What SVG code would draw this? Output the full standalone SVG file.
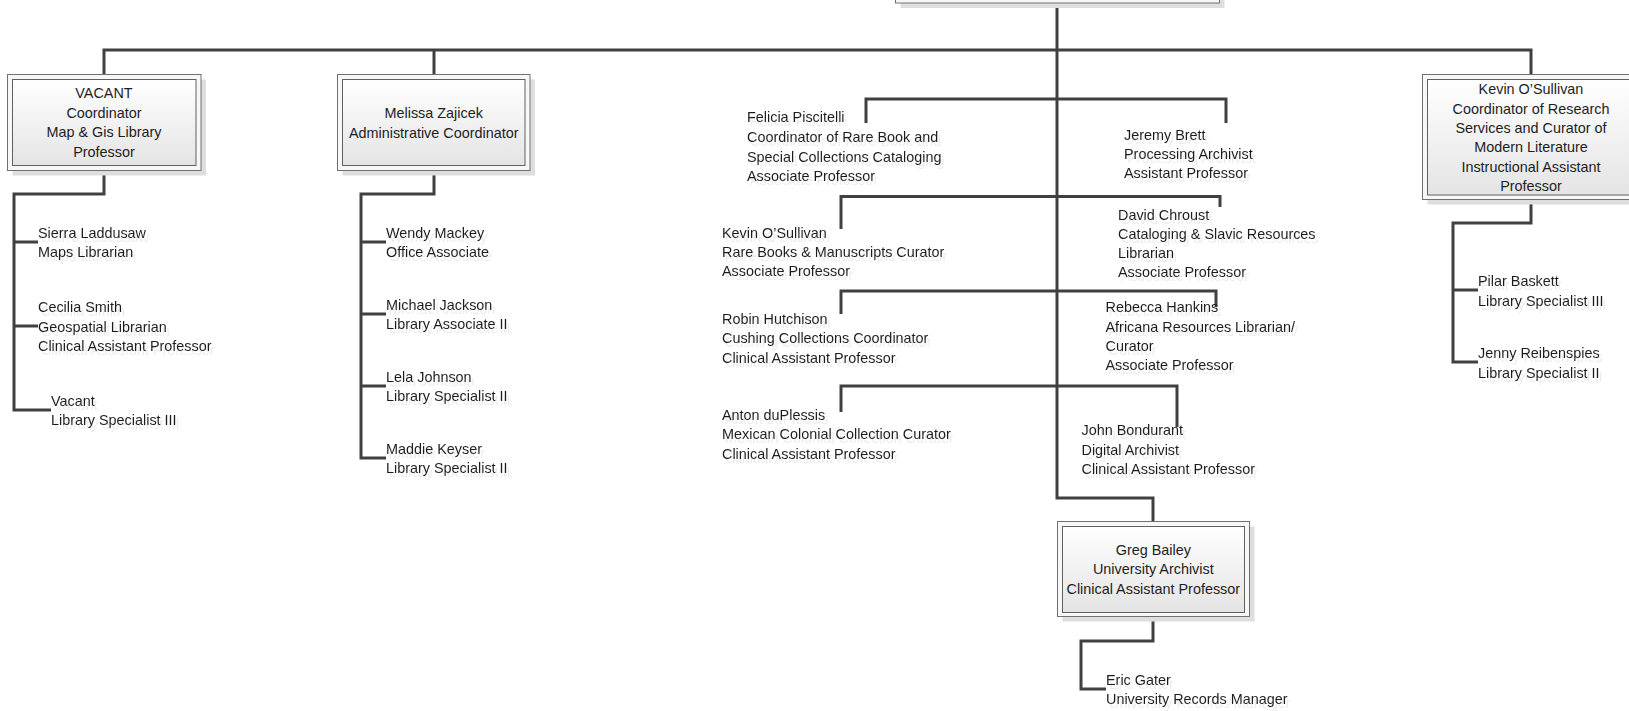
<svg xmlns="http://www.w3.org/2000/svg" width="1629" height="711" viewBox="0 0 1629 711">
<defs>
<linearGradient id="boxfill" x1="0" y1="0" x2="0" y2="1">
<stop offset="0" stop-color="#ffffff"/>
<stop offset="1" stop-color="#e4e4e4"/>
</linearGradient>
<filter id="tshadow" x="-5%" y="-20%" width="115%" height="160%">
<feDropShadow dx="3" dy="4" stdDeviation="0.5" flood-color="#b0b0b0" flood-opacity="0.25"/>
</filter>
</defs>
<style>
.shadow{fill:#dedede;stroke:none}
.outer{fill:#f7f7f7;stroke:#707070;stroke-width:1}
.inner{fill:url(#boxfill);stroke:#606060;stroke-width:1}
.conn{fill:none;stroke:#404040;stroke-width:3;stroke-linejoin:miter;stroke-linecap:butt}
text{font-family:"Liberation Sans",Arial,sans-serif;font-size:14.4px;fill:#1e1e1e}
.c{text-anchor:middle}
.free{filter:url(#tshadow)}
</style>
<rect width="1629" height="711" fill="#ffffff"/>

<g id="connectors">
<path class="conn" d="M104,74 V50 H1531 V74"/>
<path class="conn" d="M434,50 V74"/>
<path class="conn" d="M1057,3 V498 H1153 V522"/>
<path class="conn" d="M104,170 V194 H14 V410 H51 M14,242 H38 M14,326 H38"/>
<path class="conn" d="M434,170 V194 H361 V458 H386 M361,242 H386 M361,314 H386 M361,386 H386"/>
<path class="conn" d="M1531,199 V223 H1453 V362 H1478 M1453,290 H1478"/>
<path class="conn" d="M866,123 V99 H1226 V123"/>
<path class="conn" d="M841,229 V196.5 H1220 V207"/>
<path class="conn" d="M841,314 V291 H1216 V307"/>
<path class="conn" d="M841,412 V386 H1177 V427"/>
<path class="conn" d="M1153,617 V641 H1081 V689 H1106"/>
</g>

<g id="node-top">
<rect class="shadow" x="900.5" y="-45" width="324" height="53"/>
<rect class="outer" x="895.5" y="-50" width="324" height="53"/>
<rect class="inner" x="900.5" y="-50" width="314" height="48.5"/>
</g>

<g id="node-vacant-coordinator">
<rect class="shadow" x="12.5" y="79.5" width="193.5" height="96"/>
<rect class="outer" x="7.5" y="74.5" width="193.5" height="96"/>
<rect class="inner" x="12.5" y="79.5" width="183.5" height="86"/>
<text class="c" x="104" y="98">VACANT</text>
<text class="c" x="104" y="117.5">Coordinator</text>
<text class="c" x="104" y="137">Map &amp; Gis Library</text>
<text class="c" x="104" y="156.5">Professor</text>
</g>

<g id="node-melissa">
<rect class="shadow" x="342.5" y="79.5" width="192.5" height="96"/>
<rect class="outer" x="337.5" y="74.5" width="192.5" height="96"/>
<rect class="inner" x="342.5" y="79.5" width="182.5" height="86"/>
<text class="c" x="433.7" y="118.3">Melissa Zajicek</text>
<text class="c" x="433.7" y="137.7">Administrative Coordinator</text>
</g>

<g id="node-kevin-research">
<rect class="shadow" x="1427.5" y="79.5" width="220" height="125"/>
<rect class="outer" x="1422.5" y="74.5" width="220" height="125"/>
<rect class="inner" x="1427.5" y="79.5" width="210" height="115.5"/>
<text class="c" x="1531" y="94.3">Kevin O’Sullivan</text>
<text class="c" x="1531" y="113.6">Coordinator of Research</text>
<text class="c" x="1531" y="132.9">Services and Curator of</text>
<text class="c" x="1531" y="152.2">Modern Literature</text>
<text class="c" x="1531" y="171.5">Instructional Assistant</text>
<text class="c" x="1531" y="190.8">Professor</text>
</g>

<g id="node-greg">
<rect class="shadow" x="1062.5" y="526.5" width="192" height="95"/>
<rect class="outer" x="1057.5" y="521.5" width="192" height="95"/>
<rect class="inner" x="1062.5" y="526.5" width="182" height="86"/>
<text class="c" x="1153.3" y="555">Greg Bailey</text>
<text class="c" x="1153.3" y="574">University Archivist</text>
<text class="c" x="1153.3" y="593.5">Clinical Assistant Professor</text>
</g>

<g id="node-sierra" class="free">
<text x="38" y="238.3">Sierra Laddusaw</text>
<text x="38" y="257">Maps Librarian</text>
</g>
<g id="node-cecilia" class="free">
<text x="38" y="312">Cecilia Smith</text>
<text x="38" y="331.5">Geospatial Librarian</text>
<text x="38" y="350.7">Clinical Assistant Professor</text>
</g>
<g id="node-vacant-specialist" class="free">
<text x="51" y="406">Vacant</text>
<text x="51" y="425">Library Specialist III</text>
</g>

<g id="node-wendy" class="free">
<text x="386" y="238.3">Wendy Mackey</text>
<text x="386" y="257">Office Associate</text>
</g>
<g id="node-michael" class="free">
<text x="386" y="310.3">Michael Jackson</text>
<text x="386" y="329.3">Library Associate II</text>
</g>
<g id="node-lela" class="free">
<text x="386" y="382">Lela Johnson</text>
<text x="386" y="401">Library Specialist II</text>
</g>
<g id="node-maddie" class="free">
<text x="386" y="454">Maddie Keyser</text>
<text x="386" y="473">Library Specialist II</text>
</g>

<g id="node-felicia" class="free">
<text x="747" y="122.4">Felicia Piscitelli</text>
<text x="747" y="142">Coordinator of Rare Book and</text>
<text x="747" y="161.7">Special Collections Cataloging</text>
<text x="747" y="181">Associate Professor</text>
</g>
<g id="node-jeremy" class="free">
<text x="1124" y="140">Jeremy Brett</text>
<text x="1124" y="159">Processing Archivist</text>
<text x="1124" y="178">Assistant Professor</text>
</g>
<g id="node-kevin-rare" class="free">
<text x="722" y="237.5">Kevin O’Sullivan</text>
<text x="722" y="256.5">Rare Books &amp; Manuscripts Curator</text>
<text x="722" y="275.5">Associate Professor</text>
</g>
<g id="node-david" class="free">
<text x="1118" y="220">David Chroust</text>
<text x="1118" y="239">Cataloging &amp; Slavic Resources</text>
<text x="1118" y="258">Librarian</text>
<text x="1118" y="277">Associate Professor</text>
</g>
<g id="node-robin" class="free">
<text x="722" y="324">Robin Hutchison</text>
<text x="722" y="343">Cushing Collections Coordinator</text>
<text x="722" y="362.5">Clinical Assistant Professor</text>
</g>
<g id="node-rebecca" class="free">
<text x="1105.5" y="312">Rebecca Hankins</text>
<text x="1105.5" y="331.5">Africana Resources Librarian/</text>
<text x="1105.5" y="351">Curator</text>
<text x="1105.5" y="370">Associate Professor</text>
</g>
<g id="node-anton" class="free">
<text x="722" y="420">Anton duPlessis</text>
<text x="722" y="439">Mexican Colonial Collection Curator</text>
<text x="722" y="458.5">Clinical Assistant Professor</text>
</g>
<g id="node-john" class="free">
<text x="1081.5" y="435">John Bondurant</text>
<text x="1081.5" y="454.5">Digital Archivist</text>
<text x="1081.5" y="474">Clinical Assistant Professor</text>
</g>
<g id="node-eric" class="free">
<text x="1106" y="685">Eric Gater</text>
<text x="1106" y="704">University Records Manager</text>
</g>

<g id="node-pilar" class="free">
<text x="1478" y="286">Pilar Baskett</text>
<text x="1478" y="305.7">Library Specialist III</text>
</g>
<g id="node-jenny" class="free">
<text x="1478" y="358.3">Jenny Reibenspies</text>
<text x="1478" y="377.7">Library Specialist II</text>
</g>
</svg>
